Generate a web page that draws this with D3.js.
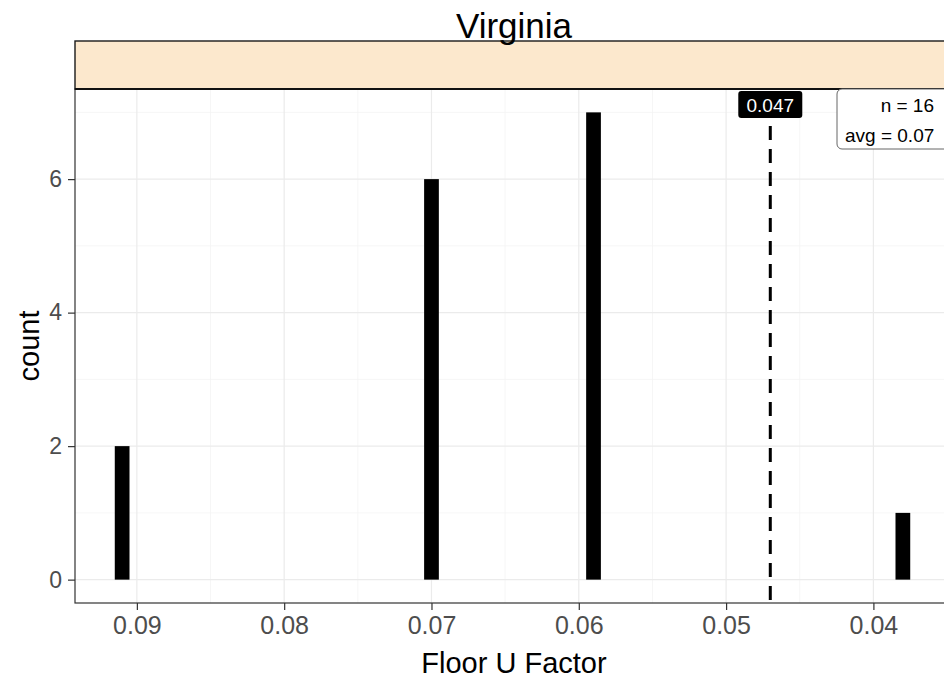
<!DOCTYPE html>
<html><head><meta charset="utf-8">
<script src="https://cdn.jsdelivr.net/npm/d3@7"></script>
<style>body{margin:0;background:#fff;} svg{display:block;font-family:"Liberation Sans",Arial,sans-serif;}</style>
</head><body>
<script>
// Data (histogram bins, binwidth 0.001)
const binCenters = [0.091, 0.070, 0.059, 0.038];
const counts = [2, 6, 7, 1];
const xTicks = [0.09, 0.08, 0.07, 0.06, 0.05, 0.04];
const xMinor = [0.095, 0.085, 0.075, 0.065, 0.055, 0.045, 0.035];
const yTicks = [0, 2, 4, 6];
const yMinor = [1, 3, 5, 7];
const refValue = 0.047;
const title = "Virginia";
const statLines = ["n = 16", "avg = 0.07"];
const binWidth = 0.001;

const W = 944, H = 683;
const svg = d3.select("body").append("svg").attr("width", W).attr("height", H);

const L = 75, R = 950, T = 89, B = 603;
const x = d3.scaleLinear().domain([0.0942, 0.0348]).range([L, R]);
const y = d3.scaleLinear().domain([-0.35, 7.35]).range([B, T]);

svg.append("rect").attr("x", L).attr("y", T).attr("width", R - L).attr("height", B - T).attr("fill", "#fff");

// minor grid
const g = svg.append("g");
g.selectAll(".mx").data(xMinor.filter(v => x(v) >= L && x(v) <= R)).join("line")
  .attr("x1", d => x(d)).attr("x2", d => x(d)).attr("y1", T).attr("y2", B)
  .attr("stroke", "#f4f4f4").attr("stroke-width", 0.8);
g.selectAll(".my").data(yMinor).join("line")
  .attr("x1", L).attr("x2", R).attr("y1", d => y(d)).attr("y2", d => y(d))
  .attr("stroke", "#f4f4f4").attr("stroke-width", 0.8);
// major grid
g.selectAll(".Mx").data(xTicks).join("line")
  .attr("x1", d => x(d)).attr("x2", d => x(d)).attr("y1", T).attr("y2", B)
  .attr("stroke", "#ebebeb").attr("stroke-width", 1.2);
g.selectAll(".My").data(yTicks).join("line")
  .attr("x1", L).attr("x2", R).attr("y1", d => y(d)).attr("y2", d => y(d))
  .attr("stroke", "#ebebeb").attr("stroke-width", 1.2);

// bars
svg.selectAll(".bar").data(binCenters).join("rect")
  .attr("x", d => x(d + binWidth / 2))
  .attr("width", d => x(d - binWidth / 2) - x(d + binWidth / 2))
  .attr("y", (d, i) => y(counts[i]))
  .attr("height", (d, i) => y(0) - y(counts[i]))
  .attr("fill", "#000");

// dashed reference line
svg.append("line").attr("x1", x(refValue)).attr("x2", x(refValue))
  .attr("y1", 126).attr("y2", B)
  .attr("stroke", "#000").attr("stroke-width", 3).attr("stroke-dasharray", "14,9");

// panel border
svg.append("rect").attr("x", L).attr("y", T).attr("width", R - L).attr("height", B - T)
  .attr("fill", "none").attr("stroke", "#333").attr("stroke-width", 1.2);

// strip
svg.append("rect").attr("x", L).attr("y", 41).attr("width", R - L + 5).attr("height", T - 41)
  .attr("fill", "#fce8cd").attr("stroke", "#1a1a1a").attr("stroke-width", 1.4);
svg.append("line").attr("x1", L).attr("x2", R + 5).attr("y1", T).attr("y2", T)
  .attr("stroke", "#111").attr("stroke-width", 2);

// title
svg.append("text").attr("x", 514).attr("y", 38).attr("text-anchor", "middle")
  .attr("font-size", 35).attr("fill", "#000").text(title);

// reference label
const rx = x(refValue);
svg.append("rect").attr("x", rx - 32).attr("y", 91).attr("width", 64).attr("height", 27)
  .attr("rx", 3).attr("fill", "#000");
svg.append("text").attr("x", rx).attr("y", 112).attr("text-anchor", "middle")
  .attr("font-size", 19).attr("fill", "#fff").text(refValue.toFixed(3));

// stats label
svg.append("rect").attr("x", 837).attr("y", 89).attr("width", 130).attr("height", 60)
  .attr("rx", 5).attr("fill", "#fff").attr("stroke", "#666").attr("stroke-width", 1);
svg.append("text").attr("x", 934).attr("y", 112).attr("text-anchor", "end")
  .attr("font-size", 19).attr("fill", "#000").text(statLines[0]);
svg.append("text").attr("x", 845).attr("y", 142).attr("text-anchor", "start")
  .attr("font-size", 19).attr("fill", "#000").text(statLines[1]);

// axes
const xAxis = svg.append("g").attr("transform", `translate(0,${B})`)
  .call(d3.axisBottom(x).tickValues(xTicks).tickFormat(d3.format(".2f")).tickSize(7).tickPadding(6));
xAxis.select(".domain").remove();
xAxis.selectAll("line").attr("stroke", "#333").attr("stroke-width", 1.2);
xAxis.selectAll("text").attr("font-size", 25).attr("fill", "#4d4d4d").attr("font-family", "Liberation Sans, Arial, sans-serif");

const yAxis = svg.append("g").attr("transform", `translate(${L},0)`)
  .call(d3.axisLeft(y).tickValues(yTicks).tickSize(7).tickPadding(6));
yAxis.select(".domain").remove();
yAxis.selectAll("line").attr("stroke", "#333").attr("stroke-width", 1.2);
yAxis.selectAll("text").attr("font-size", 23).attr("fill", "#4d4d4d").attr("font-family", "Liberation Sans, Arial, sans-serif");

// axis titles
svg.append("text").attr("x", 514).attr("y", 673).attr("text-anchor", "middle")
  .attr("font-size", 29).attr("fill", "#000").text("Floor U Factor");
svg.append("text").attr("transform", `translate(39,${(T + B) / 2}) rotate(-90)`)
  .attr("text-anchor", "middle").attr("font-size", 29).attr("fill", "#000").text("count");
</script>
</body></html>
